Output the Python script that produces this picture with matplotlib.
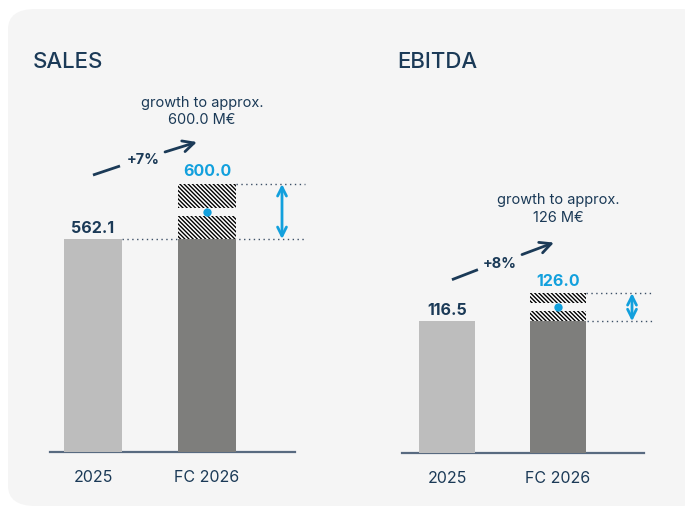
import matplotlib.pyplot as plt
from matplotlib.patches import FancyBboxPatch

plt.rcParams['font.family'] = ['Inter', 'DejaVu Sans']
plt.rcParams['hatch.linewidth'] = 1.0
plt.rcParams['hatch.color'] = 'black'

# data
categories = ['2025', 'FC 2026']
sales = [562.1, 600.0]
sales_range = [562.1, 637.9]
ebitda = [116.5, 126.0]
ebitda_range = [116.5, 135.5]
growth = ['+7%', '+8%']
targets = ['600.0 M€', '126 M€']
titles = ['SALES', 'EBITDA']

NAVY = '#1b3a57'
BLUE = '#12a0dd'
LIGHT = '#bdbdbd'
DARK = '#7e7e7c'
PANEL = '#f5f5f5'

W, H = 685, 510
fig = plt.figure(figsize=(W / 100, H / 100), dpi=100)
fig.patch.set_facecolor('white')

# rounded background panel
panel = FancyBboxPatch((8 / W, (H - 507) / H), 700 / W, 497 / H,
                       boxstyle='round,pad=0,rounding_size=0.04',
                       transform=fig.transFigure, facecolor=PANEL,
                       edgecolor='none', zorder=-1)
fig.patches.append(panel)


def px_axes(x0, x1, base, top=40):
    return fig.add_axes([x0 / W, (H - base) / H, (x1 - x0) / W, (base - top) / H])


def draw_panel(ax, title, title_x, values, rng, ylim, xlim, growth_txt, target_txt,
               text_pos, pct_pos, arrow_pts, arrow_x, dot_x0, dot_x1):
    ax.set_facecolor('none')
    ax.set_xlim(*xlim)
    ax.set_ylim(*ylim)
    for s in ['top', 'left', 'right']:
        ax.spines[s].set_visible(False)
    ax.spines['bottom'].set_color('#586a80')
    ax.spines['bottom'].set_linewidth(1.6)
    ax.set_yticks([])
    ax.set_xticks([0, 1])
    ax.set_xticklabels(categories, fontsize=11.5, color=NAVY)
    ax.tick_params(axis='x', length=0, pad=12)

    w = 0.51
    ax.bar(0, values[0], width=w, color=LIGHT, zorder=3)
    ax.bar(1, rng[0], width=w, color=DARK, zorder=3)
    gap = 4.0 * (ylim[1] - ylim[0]) / 413
    ax.bar(1, values[1] - gap - rng[0], bottom=rng[0], width=w, color='white',
           hatch='\\\\\\\\\\\\\\\\', edgecolor='black', linewidth=0, zorder=3)
    ax.bar(1, rng[1] - values[1] - gap, bottom=values[1] + gap, width=w, color='white',
           hatch='\\\\\\\\\\\\\\\\', edgecolor='black', linewidth=0, zorder=3)
    ax.scatter([1], [values[1]], s=36, color=BLUE, zorder=5, linewidths=0)

    # dotted guide lines
    ax.plot([dot_x0, dot_x1], [rng[0], rng[0]], ls=(0, (1, 2.5)), color='#3c4f66',
            lw=1, clip_on=False, zorder=1)
    ax.plot([1 + w / 2, dot_x1], [rng[1], rng[1]], ls=(0, (1, 2.5)), color='#3c4f66',
            lw=1, clip_on=False, zorder=1)
    ax.annotate('', xy=(arrow_x, rng[0]), xytext=(arrow_x, rng[1]),
                arrowprops=dict(arrowstyle='<->', color=BLUE, lw=2,
                                mutation_scale=16, shrinkA=0, shrinkB=0))

    # value labels
    ax.annotate(f'{values[0]:.1f}', (0, values[0]), xytext=(0, 3),
                textcoords='offset points', ha='center', va='bottom',
                fontsize=11.5, fontweight='bold', color=NAVY)
    ax.annotate(f'{values[1]:.1f}', (1, rng[1]), xytext=(0, 4),
                textcoords='offset points', ha='center', va='bottom',
                fontsize=11.5, fontweight='bold', color=BLUE)

    # growth annotation
    ax.text(text_pos[0], text_pos[1], f'growth to approx.\n{target_txt}',
            ha='center', va='center', fontsize=10.5, color=NAVY, linespacing=1.35)
    ax.text(pct_pos[0], pct_pos[1], growth_txt, ha='center', va='center',
            fontsize=10.5, fontweight='bold', color=NAVY)
    (p0, p1, p2, p3) = arrow_pts
    ax.plot([p0[0], p1[0]], [p0[1], p1[1]], color=NAVY, lw=2, solid_capstyle='butt')
    ax.annotate('', xy=p3, xytext=p2,
                arrowprops=dict(arrowstyle='->', color=NAVY, lw=2,
                                mutation_scale=20, shrinkA=0, shrinkB=0))

    fig.text(title_x / W, 1 - 62 / H, title, ha='left', va='center',
             fontsize=16, fontweight='medium', color=NAVY)


ax1 = px_axes(50, 295, 453)
draw_panel(ax1, titles[0], 33, sales, sales_range, (268.6, 837.8),
           (-0.377, 1.772), growth[0], targets[0],
           (0.956, 739.2), (0.44, 672.4),
           [(0, 650.3), (0.237, 662.8), (0.632, 682.1), (0.912, 695.8)],
           1.658, 0.255, 1.86)

ax2 = px_axes(402, 644, 454)
draw_panel(ax2, titles[1], 397, ebitda, ebitda_range, (27.3, 307.5),
           (-0.405, 1.775), growth[1], targets[1],
           (1.0, 193.2), (0.477, 156.2),
           [(0.045, 144.6), (0.279, 151.4), (0.676, 161.6), (0.964, 169.7)],
           1.667, 1.26, 1.856)

fig.savefig('out.png', dpi=100, facecolor=fig.get_facecolor())
